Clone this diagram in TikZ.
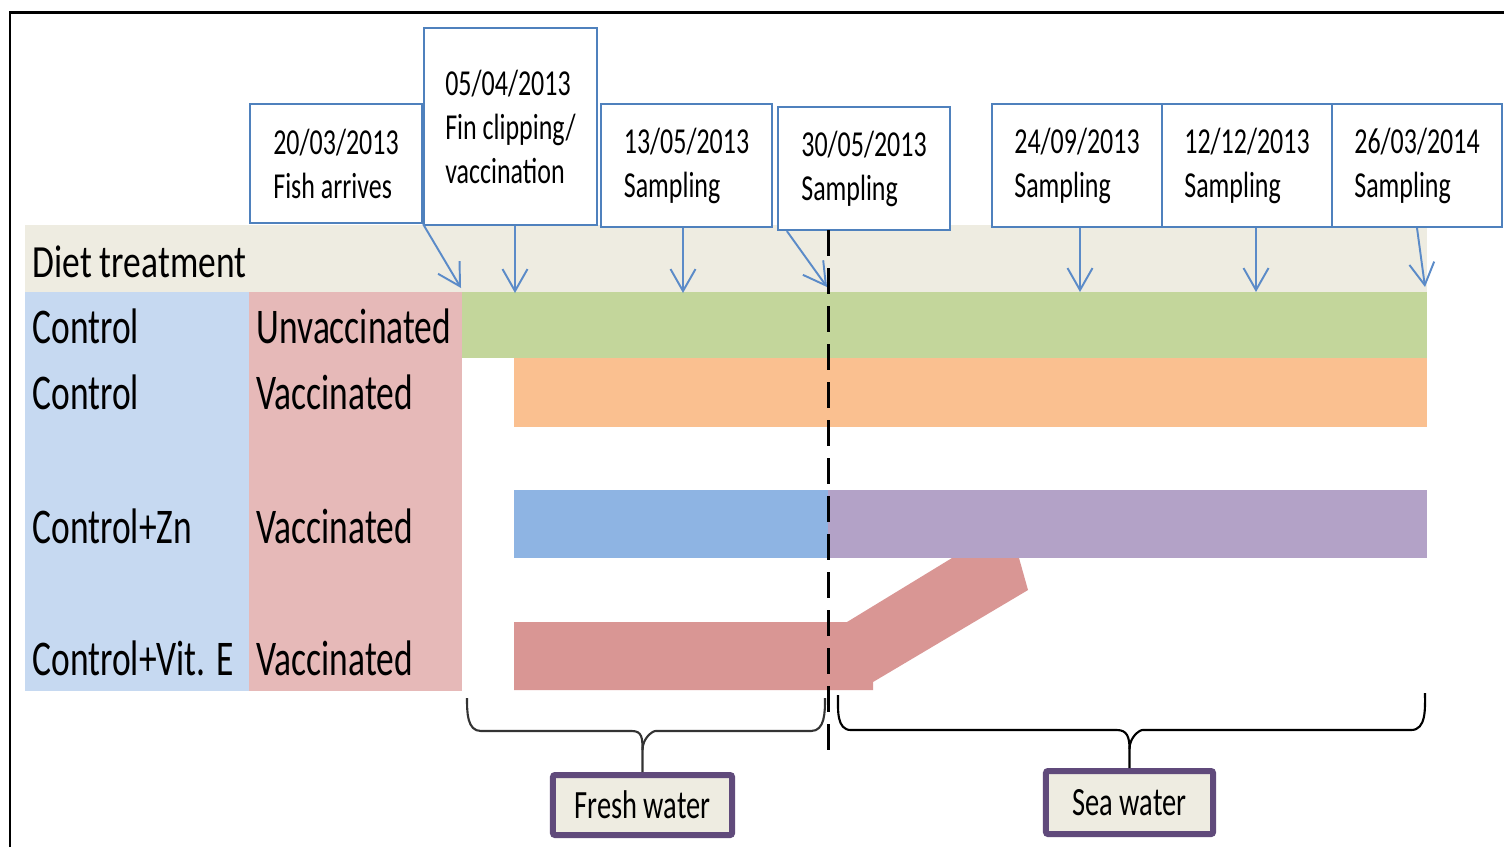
\documentclass[tikz,border=0pt]{standalone}
\usepackage{fontspec}
\setmainfont{Carlito}[FakeStretch=0.71]
\newfontfamily\dietfont{Carlito}[FakeStretch=0.77]
\usetikzlibrary{arrows.meta,calc}
\definecolor{beige}{HTML}{EEECE1}
\definecolor{lblue}{HTML}{C6D9F1}
\definecolor{lpink}{HTML}{E6B9B8}
\definecolor{bgreen}{HTML}{C3D69B}
\definecolor{borange}{HTML}{FAC090}
\definecolor{bblue}{HTML}{8EB4E3}
\definecolor{bpurple}{HTML}{B3A2C7}
\definecolor{bred}{HTML}{D99694}
\definecolor{cblue}{HTML}{4F81BD}
\definecolor{ablue}{HTML}{5B8BC8}
\definecolor{dpurple}{HTML}{604A7B}
\tikzset{
  callout/.style={draw=cblue, line width=0.6pt, fill=white, inner sep=0pt, align=left,
    font=\fontsize{10.4}{12.5}\selectfont, minimum width=#1},
  callout/.default=1.71cm,
  pointer/.style={draw=ablue, line width=0.55pt, -{Straight Barb[length=0.22cm,width=0.25cm,line width=0.55pt]}},
  lab/.style={anchor=base west, inner sep=0pt, font=\fontsize{14.2}{16}\selectfont},
  waterbox/.style={draw=dpurple, line width=1.7pt, fill=beige, rounded corners=0.6pt, inner sep=0pt,
    font=\fontsize{11.4}{13}\selectfont},
  bracel/.style={line width=0.6pt}
}
\begin{document}
\begin{tikzpicture}[x=0.01cm,y=-0.01cm]
\useasboundingbox (0,0) rectangle (1504,847);
\fill[white] (0,0) rectangle (1504,847);
\draw[line width=0.85pt] (10,847) -- (10,12) -- (1504,12);

% bands
\fill[beige] (25,225) rectangle (1427,292);
\fill[lblue] (25,292) rectangle (249,691);
\fill[lpink] (249,292) rectangle (462,691);
\fill[bgreen] (462,292) rectangle (1427,358);
\fill[borange] (514,358) rectangle (1427,427);
\fill[bred] (514,622) -- (847,622) -- (952,558) -- (1019,558) -- (1028,590) -- (873,682) -- (873,690) -- (514,690) -- cycle;
\fill[bblue] (514,490) rectangle (828,558);
\fill[bpurple] (828,490) rectangle (1427,558);

% labels
\node[lab, font=\dietfont\fontsize{13.1}{15}\selectfont] (diet) at (32,277) {Diet treatment};
\node[lab] (c1) at (32,343) {Control};
\node[lab] (c2) at (32,409) {Control};
\node[lab] (c3) at (32,543) {Control+Zn};
\node[lab] (c4) at (32,675) {Control+Vit. E};
\node[lab] (v1) at (256,343) {Unvaccinated};
\node[lab] (v2) at (256,409) {Vaccinated};
\node[lab] (v3) at (256,543) {Vaccinated};
\node[lab] (v4) at (256,675) {Vaccinated};

% callouts
\node[callout=1.72cm, minimum height=1.19cm] (b1) at (336,163.5) {20/03/2013\\Fish arrives};
\node[callout=1.73cm, minimum height=1.97cm] (b2) at (510.5,126.5) {05/04/2013\\Fin clipping/\\vaccination};
\node[callout=1.71cm, minimum height=1.23cm] (b3) at (686.5,165.5) {13/05/2013\\Sampling};
\node[callout=1.72cm, minimum height=1.23cm] (b4) at (864,168.5) {30/05/2013\\Sampling};
\node[callout=1.70cm, minimum height=1.23cm] (b5) at (1077,165.5) {24/09/2013\\Sampling};
\node[callout=1.70cm, minimum height=1.23cm] (b6) at (1247,165.5) {12/12/2013\\Sampling};
\node[callout=1.70cm, minimum height=1.23cm] (b7) at (1417,165.5) {26/03/2014\\Sampling};

\coordinate (t1) at (461,288);
\coordinate (t2) at (515,293);
\coordinate (t3) at (683,293);
\coordinate (t4) at (827,287);
\coordinate (t5) at (1080,292);
\coordinate (t6) at (1256,292);
\coordinate (t7) at (1425,287);
\draw[pointer] (b1.south east) -- (t1);
\draw[pointer] (b2.south -| t2) -- (t2);
\draw[pointer] (b3.south -| t3) -- (t3);
\draw[pointer] ($(b4.south west)+(10,0)$) -- (t4);
\draw[pointer] (b5.south -| t5) -- (t5);
\draw[pointer] (b6.south -| t6) -- (t6);
\draw[pointer] (b7.south) -- (t7);

% dashed divider
\coordinate (d1) at (828,230);
\coordinate (d2) at (828,755);
\draw[line width=0.85pt, dash pattern=on 0.26cm off 0.12cm] (d1) -- (d2);

% water boxes
\node[waterbox, minimum width=1.79cm, minimum height=0.60cm] (fw) at (642.5,805) {Fresh water};
\node[waterbox, minimum width=1.67cm, minimum height=0.63cm] (sw) at (1129.5,802.5) {Sea water};

% braces
\draw[bracel, black!80] (467,698) to[out=-90,in=180] (481,731) -- (632,731)
  .. controls (642,731) and (fw.north |- 0,738) .. (fw.north |- 0,750) -- (fw.north);
\draw[bracel, black!80] (fw.north |- 0,750) .. controls (fw.north |- 0,738) and ($(fw.north |- 0,731)+(10,0)$) .. ($(fw.north |- 0,731)+(13,0)$)
  -- (811,731) to[out=0,in=-90] (825,698);
\draw[bracel] (838,695) to[out=-90,in=180] (851,730) -- (1117,730)
  .. controls (1127,730) and (sw.north |- 0,737) .. (sw.north |- 0,749) -- (sw.north);
\draw[bracel] (sw.north |- 0,749) .. controls (sw.north |- 0,737) and ($(sw.north |- 0,730)+(10,0)$) .. ($(sw.north |- 0,730)+(13,0)$)
  -- (1411,730) to[out=0,in=-90] (1425,693);
\end{tikzpicture}
\end{document}
